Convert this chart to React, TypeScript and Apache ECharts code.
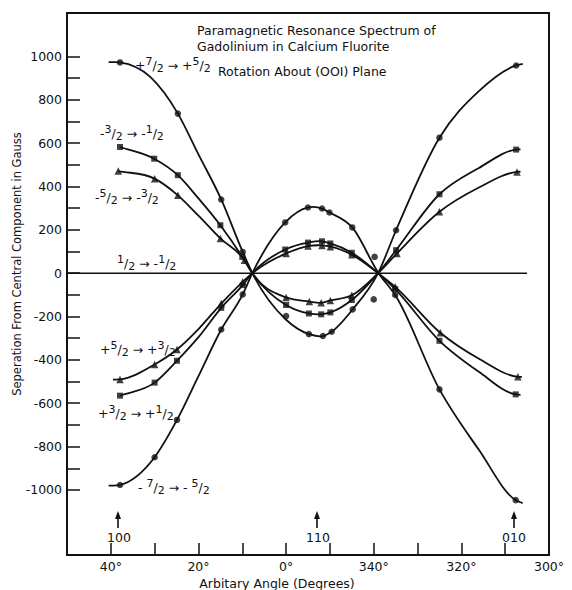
import React, { useEffect, useRef } from "react";
import * as echarts from "echarts";

// x: rotation angle in degrees (negative values shown as 360 + value)
const angleTicks = [40, 30, 20, 10, 0, -10, -20, -30, -40, -50];
const angleLabels = [40, 20, 0, -20, -40, -60];
// y: separation from central component (gauss)
const gaussTicks = [-1000, -900, -800, -700, -600, -500, -400, -300, -200, -100, 0, 100, 200, 300, 400, 500, 600, 700, 800, 900, 1000];
const gaussLabels = [-1000, -800, -600, -400, -200, 0, 200, 400, 600, 800, 1000];

// [angle, gauss, kind]: 1 = measured point on the curve, 0 = curve-only vertex, 2 = measured point off the curve
const plus72 = [
  [40.5, 973, 0], [37.9, 972, 1], [31, 905, 0], [24.7, 736, 1], [20, 548, 0], [14.8, 340, 1], [9.9, 98, 1],
  [7.7, 0, 0], [0, -198, 2], [0, -215, 0], [-5.2, -281, 1], [-8.4, -290, 1], [-10.4, -270, 1], [-15.2, -167, 1], [-20, -121, 2], [-21, 0, 0],
  [-25.1, 198, 1], [-35, 625, 1], [-44, 840, 0], [-52.5, 958, 1], [-54, 965, 0],
];
const minus72 = [
  [40.5, -980, 0], [37.9, -977, 1], [30, -849, 1], [24.9, -677, 1], [20, -475, 0], [14.8, -260, 1], [9.9, -98, 1],
  [7.7, 0, 0], [0.2, 234, 1], [-5, 303, 1], [-8.2, 298, 1], [-9.9, 280, 1], [-15.1, 211, 1], [-20.2, 75, 2], [-21.1, 0, 0],
  [-24.9, -101, 1], [-35, -536, 1], [-44, -815, 0], [-52.4, -1047, 1], [-54, -1061, 0],
];
const minus32 = [
  [37.9, 582, 1], [30.1, 528, 1], [24.7, 452, 1], [20, 345, 0], [15, 221, 1], [10, 75, 1],
  [7.7, 0, 0], [0, -147, 1], [-5.2, -186, 1], [-8, -190, 1], [-10.1, -181, 1], [-15, -124, 1], [-21, 0, 0],
  [-25.1, 106, 1], [-35, 364, 1], [-44, 485, 0], [-52.5, 570, 1], [-53.5, 571, 0],
];
const plus32 = [
  [37.9, -565, 1], [30, -505, 1], [24.9, -404, 1], [20, -295, 0], [14.8, -160, 1], [9.9, -55, 1],
  [7.7, 0, 0], [0.2, 109, 1], [-5, 141, 1], [-8.2, 147, 1], [-10.1, 137, 1], [-15, 94, 1], [-21, 0, 0],
  [-24.9, -74, 1], [-35, -312, 1], [-44, -455, 0], [-52.4, -559, 1], [-53.5, -561, 0],
];
const plus52 = [
  [39.5, -491, 0], [37.9, -490, 1], [30, -421, 1], [24.9, -352, 1], [20, -258, 0], [14.8, -140, 1], [9.9, -40, 1],
  [7.7, 0, 0], [0, 91, 1], [-5, 125, 1], [-8.2, 128, 1], [-10.1, 122, 1], [-15, 85, 1], [-21, 0, 0],
  [-24.9, -63, 1], [-35.2, -275, 1], [-44, -395, 0], [-52.9, -478, 1], [-53.8, -479, 0],
];
const minus52 = [
  [38.3, 471, 1], [30, 436, 1], [24.7, 359, 1], [20, 265, 0], [15, 160, 1], [9.5, 60, 1],
  [7.7, 0, 0], [0, -112, 1], [-5.3, -131, 1], [-8, -137, 1], [-10.1, -126, 1], [-15, -102, 1], [-21, 0, 0],
  [-25.3, 91, 1], [-35, 283, 1], [-44, 395, 0], [-52.7, 467, 1], [-53.5, 468, 0],
];
const halfLine = [[50, 0], [-55, 0]];

const titleLines = ["Paramagnetic Resonance Spectrum of", "Gadolinium in Calcium Fluorite", "Rotation About (OOI) Plane"];
const orientationLabels = ["100", "110", "010"];
const xName = "Arbitary Angle (Degrees)";
const yName = "Seperation From Central Component in Gauss";

const INK = "#111";
const FONT = "DejaVu Sans";

const curves = [plus72, minus72, minus32, plus32, plus52, minus52];

const measured = (arr: number[][]) => arr.filter((p) => p[2] >= 1).map((p) => [p[0], p[1]]);
const onCurve = (arr: number[][]) => arr.filter((p) => p[2] !== 2);

// smooth cubic Hermite path through pixel points (parameterised by pixel x)
const curvePath = (pts: number[][]) => {
  const n = pts.length;
  const m: number[] = [];
  for (let i = 0; i < n; i++) {
    if (i === 0) m.push((pts[1][1] - pts[0][1]) / (pts[1][0] - pts[0][0]));
    else if (i === n - 1) m.push((pts[n - 1][1] - pts[n - 2][1]) / (pts[n - 1][0] - pts[n - 2][0]));
    else {
      const h0 = pts[i][0] - pts[i - 1][0];
      const h1 = pts[i + 1][0] - pts[i][0];
      const d0 = (pts[i][1] - pts[i - 1][1]) / h0;
      const d1 = (pts[i + 1][1] - pts[i][1]) / h1;
      m.push((d0 * h1 + d1 * h0) / (h0 + h1));
    }
  }
  let d = `M${pts[0][0]},${pts[0][1]}`;
  for (let i = 0; i < n - 1; i++) {
    const h = pts[i + 1][0] - pts[i][0];
    d += ` C${pts[i][0] + h / 3},${pts[i][1] + (m[i] * h) / 3} ${pts[i + 1][0] - h / 3},${pts[i + 1][1] - (m[i + 1] * h) / 3} ${pts[i + 1][0]},${pts[i + 1][1]}`;
  }
  return d;
};

const rich = {
  n: { fontSize: 12.5, lineHeight: 18, color: INK, fontFamily: FONT },
  sup: { fontSize: 11, lineHeight: 12, verticalAlign: "top", color: INK, fontFamily: FONT },
  sub: { fontSize: 11, lineHeight: 12, verticalAlign: "bottom", color: INK, fontFamily: FONT },
};

const fracLabel = (text: string, x: number, y: number) => ({
  type: "text",
  x,
  y,
  style: { text, rich, align: "left", verticalAlign: "middle", fill: INK, font: `12px ${FONT}` },
  z: 10,
});

const arrow = (x: number) => [
  { type: "line", shape: { x1: x, y1: 528, x2: x, y2: 517 }, style: { stroke: INK, lineWidth: 1.6 }, z: 10 },
  { type: "polygon", shape: { points: [[x, 511], [x - 3, 519], [x + 3, 519]] }, style: { fill: INK }, z: 10 },
];

const plainText = (text: string, x: number, y: number, align = "left", size = 12.5) => ({
  type: "text",
  x,
  y,
  style: { text, font: `${size}px ${FONT}`, fill: INK, align, verticalAlign: "middle" },
  z: 10,
});

const markerSeries = (data: number[][], symbol: string, size: number) => ({
  type: "scatter",
  data,
  symbol,
  symbolSize: size,
  itemStyle: { color: INK },
  silent: true,
  z: 4,
});

export default function App() {
  const ref = useRef<HTMLDivElement>(null);
  useEffect(() => {
    if (!ref.current) return;
    const chart = echarts.init(ref.current, null, { renderer: "svg" });
    chart.setOption({
      animation: false,
      backgroundColor: "#fff",
      textStyle: { fontFamily: FONT, color: INK },
      grid: { left: 67, right: 23, top: 13, bottom: 35, show: true, borderColor: INK, borderWidth: 2, backgroundColor: "transparent" },
      xAxis: {
        type: "value",
        min: -60,
        max: 50,
        interval: 10,
        inverse: true,
        splitLine: { show: false },
        axisLine: { show: true, onZero: false, lineStyle: { color: INK, width: 2 } },
        axisTick: { show: true, inside: true, length: 12, customValues: angleTicks, lineStyle: { color: INK, width: 1.5 } },
        axisLabel: {
          show: true,
          customValues: angleLabels,
          margin: 5,
          fontSize: 12.5,
          color: INK,
          fontFamily: FONT,
          showMaxLabel: true,
          showMinLabel: true,
          formatter: (v: number) => `${v < 0 ? v + 360 : v}°`,
        },
      },
      yAxis: {
        type: "value",
        min: -1300,
        max: 1200,
        interval: 100,
        splitLine: { show: false },
        axisLine: { show: true, onZero: false, lineStyle: { color: INK, width: 2 } },
        axisTick: { show: true, inside: true, length: 13, customValues: gaussTicks, lineStyle: { color: INK, width: 1.5 } },
        axisLabel: {
          show: true,
          customValues: gaussLabels,
          margin: 5,
          fontSize: 12.5,
          color: INK,
          fontFamily: FONT,
          formatter: (v: number) => String(v),
        },
      },
      series: [
        {
          type: "line",
          name: "1/2 → -1/2",
          data: halfLine,
          symbol: "none",
          silent: true,
          lineStyle: { color: INK, width: 1.5 },
          z: 2,
        },
        {
          type: "custom",
          coordinateSystem: "cartesian2d",
          silent: true,
          clip: true,
          z: 3,
          encode: { x: 0, y: 1 },
          data: curves.map((c, i) => [c[0][0], c[0][1], i]),
          renderItem: (params: any, api: any) => {
            const idx = api.value(2);
            const pts = onCurve(curves[idx]).map((p) => api.coord([p[0], p[1]]));
            return {
              type: "path",
              shape: { pathData: curvePath(pts) },
              style: { stroke: INK, lineWidth: 1.8, fill: "none" },
            };
          },
        },
        markerSeries([...measured(plus72), ...measured(minus72)], "circle", 6.5),
        markerSeries([...measured(minus32), ...measured(plus32)], "rect", 6),
        markerSeries([...measured(plus52), ...measured(minus52)], "triangle", 7.5),
      ],
      graphic: [
        plainText(titleLines[0], 197, 30),
        plainText(titleLines[1], 197, 46),
        plainText(titleLines[2], 218, 71),
        fracLabel("{n|+}{sup|7}{n|/}{sub|2}{n| → +}{sup|5}{n|/}{sub|2}", 135, 65),
        fracLabel("{n|-}{sup|3}{n|/}{sub|2}{n| → -}{sup|1}{n|/}{sub|2}", 100, 133),
        fracLabel("{n|-}{sup|5}{n|/}{sub|2}{n| → -}{sup|3}{n|/}{sub|2}", 95, 197),
        fracLabel("{sup|1}{n|/}{sub|2}{n| → -}{sup|1}{n|/}{sub|2}", 117, 263),
        fracLabel("{n|+}{sup|5}{n|/}{sub|2}{n| → +}{sup|3}{n|/}{sub|2}", 100, 349),
        fracLabel("{n|+}{sup|3}{n|/}{sub|2}{n| → +}{sup|1}{n|/}{sub|2}", 98, 413),
        fracLabel("{n|- }{sup|7}{n|/}{sub|2}{n| → - }{sup|5}{n|/}{sub|2}", 138, 487),
        ...arrow(118),
        ...arrow(317),
        ...arrow(514),
        plainText(orientationLabels[0], 119, 537, "center"),
        plainText(orientationLabels[1], 318, 537, "center"),
        plainText(orientationLabels[2], 514, 537, "center"),
        plainText(xName, 277, 583, "center"),
        { ...plainText(yName, 17, 264, "center", 11.5), rotation: Math.PI / 2 },
      ],
    });
    return () => chart.dispose();
  }, []);
  return <div ref={ref} style={{ width: 572, height: 590, position: "absolute", left: 0, top: 0 }} />;
}
